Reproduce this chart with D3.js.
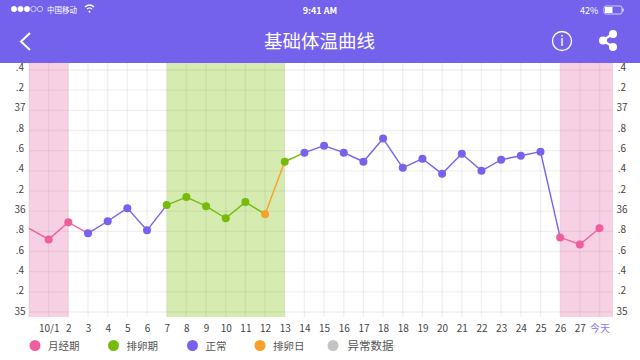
<!DOCTYPE html>
<html>
<head>
<meta charset="utf-8">
<script src="https://cdn.jsdelivr.net/npm/d3@7"></script>
<style>
html, body { margin: 0; padding: 0; background: #fff; }
svg { display: block; }
text { font-family: "Noto Sans CJK SC", "Noto Sans", sans-serif; }
</style>
</head>
<body>
<svg width="640" height="360"></svg>
<script>
// x positions, first one is the day before 10/1 and has no label
var dayKeys = ["9/30","10/1","2","3","4","5","6","7","8","9","10","11","12","13","14","15","16","17","18a","18b","19","20","21","22","23","24","25","26","27","today"];
var dayLabels = ["","10/1","2","3","4","5","6","7","8","9","10","11","12","13","14","15","16","17","18","18","19","20","21","22","23","24","25","26","27","今天"];
var temps = [35.83,35.72,35.89,35.78,35.90,36.03,35.81,36.06,36.14,36.05,35.93,36.09,35.97,36.49,36.58,36.65,36.58,36.49,36.72,36.43,36.52,36.37,36.57,36.40,36.51,36.55,36.59,35.74,35.67,35.83];
var phases = ["m","m","m","n","n","n","n","o","o","o","o","o","d","o","n","n","n","n","n","n","n","n","n","n","n","n","n","m","m","m"];

var yTicks = [35,35.2,35.4,35.6,35.8,36,36.2,36.4,36.6,36.8,37,37.2,37.4];
var yLabels = ["35",".2",".4",".6",".8","36",".2",".4",".6",".8","37",".2",".4"];

var legendNames = ["月经期","排卵期","正常","排卵日","异常数据"];
var legendKeys = ["m","o","n","d","x"];

var bandStarts = ["9/30","7","26"];
var bandEnds = ["2","13","today"];
var bandColors = ["#f8d0e3","#d6ebaf","#f8d0e3"];

var colors = {m:"#ee5f9c", o:"#76bb0c", n:"#7662ec", d:"#f7a128", x:"#c4c4c4"};
var purple = "#7562ec";

var svg = d3.select("svg");

var x = d3.scalePoint().domain(dayKeys).range([29, 599.5]);
var y = d3.scaleLinear().domain([35, 37.4]).range([312, 70]);
// the app draws its labels a little above the grid lines
var yLabel = d3.scaleLinear().domain([35, 37.4]).range([311, 67]);

var plotRight = 613, plotTop = 63, plotBottom = 317;

// bands
bandStarts.forEach(function(s, i){
    var end = i === 2 ? plotRight : x(bandEnds[i]);
    svg.append("rect")
        .attr("x", x(s)).attr("y", plotTop)
        .attr("width", end - x(s)).attr("height", plotBottom - plotTop)
        .attr("fill", bandColors[i]);
});

// grid
svg.append("g").selectAll("line").data(yTicks).join("line")
    .attr("x1", 29).attr("x2", plotRight)
    .attr("y1", function(d){ return y(d); }).attr("y2", function(d){ return y(d); })
    .attr("stroke", "#8a8a8a").attr("stroke-opacity", 0.13).attr("stroke-width", 1.3);

svg.append("g").selectAll("line").data(dayKeys).join("line")
    .attr("x1", function(d){ return x(d); }).attr("x2", function(d){ return x(d); })
    .attr("y1", plotTop).attr("y2", plotBottom)
    .attr("stroke", "#8a8a8a").attr("stroke-opacity", 0.13).attr("stroke-width", 1.3);

// y labels on both sides
[20, 622].forEach(function(px){
    svg.append("g").selectAll("text").data(yTicks).join("text")
        .attr("x", px)
        .attr("y", function(d){ return yLabel(d) + 3.5; })
        .attr("text-anchor", "middle")
        .attr("font-size", 10).attr("fill", "#444")
        .text(function(d, i){ return yLabels[i]; });
});

// x labels
svg.append("g").selectAll("text").data(dayKeys).join("text")
    .attr("x", function(d){ return x(d) + 0.5; })
    .attr("y", 331.5)
    .attr("text-anchor", "middle")
    .attr("font-size", 10)
    .attr("fill", function(d, i){ return i === dayKeys.length - 1 ? "#8d80f0" : "#444"; })
    .text(function(d, i){ return dayLabels[i]; });

// line, each segment takes the colour of its start point
var line = d3.line().x(function(d){ return x(d.key); }).y(function(d){ return y(d.value); });
var points = dayKeys.map(function(k, i){ return {key: k, value: temps[i], phase: phases[i]}; });

svg.append("g").selectAll("path").data(d3.pairs(points)).join("path")
    .attr("d", function(d){ return line(d); })
    .attr("fill", "none")
    .attr("stroke-width", 1.4)
    .attr("stroke", function(d){ return colors[d[0].phase]; });

svg.append("g").selectAll("circle").data(points.slice(1)).join("circle")
    .attr("cx", function(d){ return x(d.key); })
    .attr("cy", function(d){ return y(d.value); })
    .attr("r", 4)
    .attr("fill", function(d){ return colors[d.phase]; });

// legend
var legendX = d3.scaleOrdinal().domain(legendKeys).range([35, 113.5, 192.5, 260, 333]);
var legend = svg.append("g").selectAll("g").data(legendKeys).join("g")
    .attr("transform", function(d){ return "translate(" + legendX(d) + ",345.5)"; });
legend.append("circle").attr("r", 5.5).attr("fill", function(d){ return colors[d]; });
legend.append("text").attr("x", function(d){ return d === "x" ? 14.5 : 13; }).attr("y", 4.5)
    .attr("font-size", function(d){ return d === "x" ? 11.5 : 10.5; }).attr("fill", "#555")
    .text(function(d, i){ return legendNames[i]; });

// header
svg.append("rect").attr("width", 640).attr("height", 63).attr("fill", purple);
svg.append("text").attr("x", 319.5).attr("y", 48).attr("text-anchor", "middle")
    .attr("font-size", 18.5).attr("fill", "#fff").text("基础体温曲线");
svg.append("path").attr("d", "M30,33 L21,41.5 L30,50").attr("fill", "none")
    .attr("stroke", "#fff").attr("stroke-width", 2);

// info icon
svg.append("circle").attr("cx", 562).attr("cy", 41).attr("r", 9.5)
    .attr("fill", "none").attr("stroke", "#fff").attr("stroke-width", 1.3);
svg.append("text").attr("x", 562).attr("y", 46).attr("text-anchor", "middle")
    .attr("font-size", 14).attr("fill", "#fff").text("i");

// share icon
svg.append("path").attr("d", "M613,33.5 L603,40.5 L613,47").attr("fill", "none")
    .attr("stroke", "#fff").attr("stroke-width", 2.2);
[[613,34],[603,40.5],[613,47]].forEach(function(p){
    svg.append("circle").attr("cx", p[0]).attr("cy", p[1]).attr("r", 4).attr("fill", "#fff");
});

// status bar
d3.range(5).forEach(function(i){
    svg.append("circle").attr("cx", 14 + i * 6.5).attr("cy", 9).attr("r", 2.7)
        .attr("fill", i < 3 ? "#fff" : "none").attr("stroke", "#fff").attr("stroke-width", 0.6);
});
svg.append("text").attr("x", 47).attr("y", 12.5).attr("font-size", 7.5).attr("fill", "#fff").text("中国移动");
svg.append("path").attr("d", "M85,7 Q89.5,3 94,7 M87,9 Q89.5,7 92,9 M88.8,11 L89.5,12 L90.2,11")
    .attr("fill", "none").attr("stroke", "#fff").attr("stroke-width", 1.2);
svg.append("text").attr("x", 320).attr("y", 14).attr("text-anchor", "middle")
    .attr("font-size", 9).attr("font-weight", "bold").attr("fill", "#fff").text("9:41 AM");
svg.append("text").attr("x", 580).attr("y", 13.5).attr("font-size", 9).attr("fill", "#fff").text("42%");
svg.append("rect").attr("x", 604).attr("y", 6).attr("width", 18).attr("height", 8).attr("rx", 2)
    .attr("fill", "none").attr("stroke", "#fff").attr("stroke-width", 0.7);
svg.append("rect").attr("x", 605).attr("y", 7).attr("width", 7.5).attr("height", 6).attr("fill", "#fff");
svg.append("rect").attr("x", 622.5).attr("y", 8.5).attr("width", 1).attr("height", 3).attr("fill", "#fff");
</script>
</body>
</html>
